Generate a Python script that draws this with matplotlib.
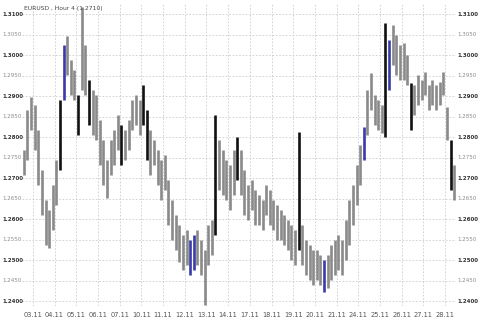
import numpy as np
import matplotlib.pyplot as plt
from matplotlib.transforms import blended_transform_factory

days = ['03.11', '04.11', '05.11', '06.11', '07.11', '10.11', '11.11', '12.11', '13.11', '14.11',
        '17.11', '18.11', '19.11', '20.11', '21.11', '24.11', '25.11', '26.11', '27.11', '28.11']

# 4-hour bars, 6 per day
highs = [1.2768, 1.2866, 1.2898, 1.2878, 1.2817, 1.2720,
         1.2646, 1.2622, 1.2683, 1.2744, 1.2890, 1.3024,
         1.3046, 1.2988, 1.2963, 1.2902, 1.3117, 1.3024,
         1.2939, 1.2915, 1.2902, 1.2841, 1.2793, 1.2744,
         1.2793, 1.2817, 1.2854, 1.2829, 1.2817, 1.2841,
         1.2890, 1.2902, 1.2890, 1.2927, 1.2866, 1.2817,
         1.2793, 1.2768, 1.2744, 1.2756, 1.2695, 1.2646,
         1.2610, 1.2585, 1.2561, 1.2573, 1.2549, 1.2561,
         1.2573, 1.2549, 1.2524, 1.2585, 1.2598, 1.2854,
         1.2793, 1.2768, 1.2744, 1.2732, 1.2768, 1.2800,
         1.2768, 1.2720, 1.2683, 1.2695, 1.2671, 1.2659,
         1.2646, 1.2683, 1.2671, 1.2646, 1.2634, 1.2622,
         1.2610, 1.2598, 1.2585, 1.2573, 1.2812, 1.2585,
         1.2549, 1.2537, 1.2524, 1.2524, 1.2512, 1.2500,
         1.2512, 1.2537, 1.2549, 1.2561, 1.2549, 1.2598,
         1.2646, 1.2683, 1.2732, 1.2780, 1.2824, 1.2915,
         1.2956, 1.2902, 1.2890, 1.2878, 1.3078, 1.3037,
         1.3073, 1.3049, 1.3024, 1.3029, 1.3000, 1.2932,
         1.2927, 1.2951, 1.2939, 1.2959, 1.2927, 1.2939,
         1.2927, 1.2934, 1.2959, 1.2873, 1.2793, 1.2732]

lows = [1.2707, 1.2744, 1.2817, 1.2768, 1.2683, 1.2610,
        1.2537, 1.2529, 1.2573, 1.2634, 1.2720, 1.2890,
        1.2951, 1.2902, 1.2890, 1.2805, 1.2915, 1.2902,
        1.2829, 1.2805, 1.2793, 1.2732, 1.2683, 1.2651,
        1.2707, 1.2732, 1.2768, 1.2732, 1.2744, 1.2768,
        1.2817, 1.2829, 1.2805, 1.2829, 1.2744, 1.2707,
        1.2732, 1.2683, 1.2646, 1.2671, 1.2585, 1.2549,
        1.2524, 1.2495, 1.2476, 1.2488, 1.2463, 1.2476,
        1.2488, 1.2463, 1.2390, 1.2488, 1.2512, 1.2561,
        1.2671, 1.2659, 1.2646, 1.2622, 1.2659, 1.2695,
        1.2659, 1.2610, 1.2598, 1.2622, 1.2585, 1.2585,
        1.2573, 1.2610, 1.2585, 1.2573, 1.2549, 1.2549,
        1.2537, 1.2524, 1.2500, 1.2488, 1.2524, 1.2488,
        1.2463, 1.2451, 1.2439, 1.2451, 1.2439, 1.2422,
        1.2432, 1.2451, 1.2463, 1.2476, 1.2463, 1.2500,
        1.2537, 1.2585, 1.2634, 1.2683, 1.2744, 1.2805,
        1.2866, 1.2829, 1.2817, 1.2810, 1.2800, 1.2915,
        1.2976, 1.2951, 1.2939, 1.2939, 1.2927, 1.2817,
        1.2854, 1.2878, 1.2890, 1.2902, 1.2866, 1.2878,
        1.2866, 1.2878, 1.2902, 1.2793, 1.2671, 1.2646]

black_bars = [10, 15, 18, 27, 33, 34, 53, 59, 76, 100, 107, 118]
blue_bars = [11, 46, 47, 83, 94, 101]

yticks = np.round(np.arange(1.24, 1.3101, 0.005), 3)

fig = plt.figure(figsize=(4.8, 3.19), dpi=100)
ax = fig.add_axes([22/480, 13/319, 434/480, 302/319])

x = np.arange(len(highs))
colors = ['#8a8a8a'] * len(highs)
for i in black_bars:
    colors[i] = '#111111'
for i in blue_bars:
    colors[i] = '#3a3aa8'
ax.vlines(x, lows, highs, colors=colors, linewidth=1.9)

ax.set_xlim(-0.5, len(highs) - 0.5)
ax.set_ylim(1.2388, 1.31244)

ax.set_yticks(yticks)
ax.set_yticklabels([])
ax.set_xticks(np.arange(len(days)) * 6 + 2.5)
ax.set_xticklabels(days, fontsize=4.8, color='#555555')
ax.tick_params(axis='both', length=0, pad=4)
ax.grid(True, color='#cccccc', linestyle=(0, (2, 2)), linewidth=0.6)
ax.set_axisbelow(True)
for s in ax.spines.values():
    s.set_visible(False)

# price labels on both sides, whole cents darker
tr = blended_transform_factory(fig.transFigure, ax.transData)
for v in yticks:
    major = abs(v * 100 - round(v * 100)) < 1e-6
    c = '#333333' if major else '#8c8c8c'
    w = 'bold' if major else 'normal'
    ax.text(2/480, v, '%.4f' % v, transform=tr, ha='left', va='center',
            fontsize=4.0, color=c, fontweight=w)
    ax.text(457/480, v, '%.4f' % v, transform=tr, ha='left', va='center',
            fontsize=4.0, color=c, fontweight=w)

ax.text(0.005, 0.995, 'EURUSD , Hour 4 (1.2710)', transform=ax.transAxes, ha='left', va='top',
        fontsize=4.3, color='#444444')

fig.savefig('out.png', dpi=100)
